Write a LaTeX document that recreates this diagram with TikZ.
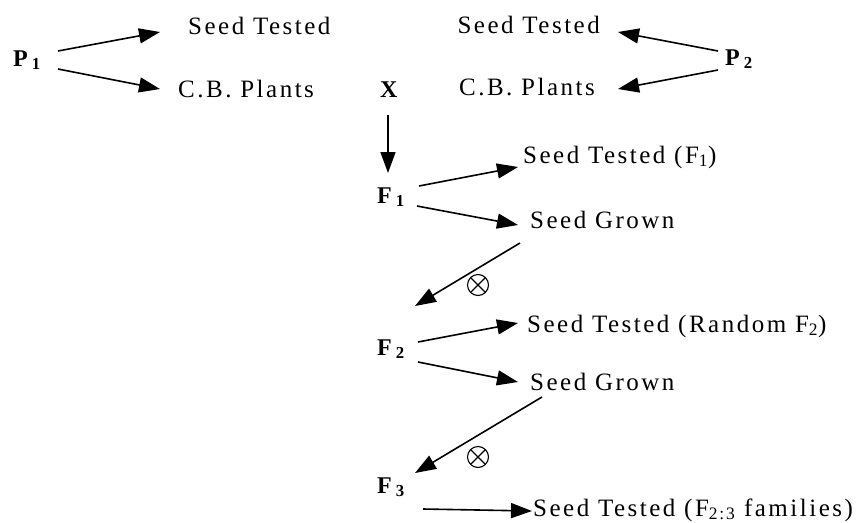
\documentclass[tikz,border=0pt]{standalone}
\usepackage{fontspec}
\setmainfont{Liberation Serif}[LetterSpace=10]
\usetikzlibrary{arrows.meta}
\begin{document}
\begin{tikzpicture}[x=1pt,y=-1pt,
  lbl/.style={anchor=base west, inner sep=0pt, font=\fontsize{25}{29}\selectfont},
  lble/.style={lbl, anchor=base east},
  gen/.style={lbl, font=\fontsize{24}{28}\selectfont\bfseries},
  arr/.style={-{Triangle[length=21pt,width=15pt]}, line width=1.6pt},
  selfed/.style={circle, draw, line width=1.1pt, minimum size=21pt, inner sep=0pt,
    path picture={\draw[line width=1.1pt] (path picture bounding box.north west) -- (path picture bounding box.south east)
      (path picture bounding box.north east) -- (path picture bounding box.south west);}}
]
\useasboundingbox (0,0) rectangle (861,522);
% parents
\node[gen] (p1) at (13,66) {P\,\textsubscript{1}};
\node[lbl] (st1) at (188,34) {Seed Tested};
\node[lbl] (cb1) at (178,97) {C.B. Plants};
\node[gen] (x) at (380,97) {X};
\node[lble] (st2) at (600,33) {Seed Tested};
\node[lble] (cb2) at (595,95) {C.B. Plants};
\node[gen] (p2) at (725,65) {P\,\textsubscript{2}};
% generations
\node[gen] (f1) at (377,203) {F\,\textsubscript{1}};
\node[lbl] (stf1) at (523,163) {Seed Tested (F\textsubscript{1})};
\node[lbl] (sg1) at (530,228) {Seed Grown};
\node[gen] (f2) at (377,355) {F\,\textsubscript{2}};
\node[lbl] (str) at (527,332) {Seed Tested (Random F\textsubscript{2})};
\node[lbl] (sg2) at (530,390) {Seed Grown};
\node[gen] (f3) at (377,493) {F\,\textsubscript{3}};
\node[lbl] (stfam) at (533,516) {Seed Tested (F\textsubscript{2:3} families)};
\node[selfed] (o1) at (478,285) {};
\node[selfed] (o2) at (478,457) {};
% connectors
\draw[arr] ([shift={(45,-15)}]p1.base west) -- ([shift={(-28,-2)}]st1.base west);
\draw[arr] ([shift={(45,3)}]p1.base west) -- ([shift={(-18,-8)}]cb1.base west);
\draw[arr] ([shift={(-7,-14)}]p2.base west) -- ([shift={(18,-1)}]st2.base east);
\draw[arr] ([shift={(-7,5)}]p2.base west) -- ([shift={(23,-6)}]cb2.base east);
\draw[arr] ([shift={(8,18)}]x.base west) -- ([shift={(11,-30)}]f1.base west);
\draw[arr] ([shift={(42,-17)}]f1.base west) -- ([shift={(-5,4)}]stf1.base west);
\draw[arr] ([shift={(40,3)}]f1.base west) -- ([shift={(-12,-3)}]sg1.base west);
\draw[arr] ([shift={(-10,15)}]sg1.base west) -- ([shift={(38,-49)}]f2.base west);
\draw[arr] ([shift={(41,-13)}]f2.base west) -- ([shift={(-9,-9)}]str.base west);
\draw[arr] ([shift={(41,7)}]f2.base west) -- ([shift={(-12,-8)}]sg2.base west);
\draw[arr] ([shift={(12,7)}]sg2.base west) -- ([shift={(38,-20)}]f3.base west);
\draw[arr] ([shift={(46,16)}]f3.base west) -- ([shift={(-1,-5)}]stfam.base west);
\end{tikzpicture}
\end{document}
